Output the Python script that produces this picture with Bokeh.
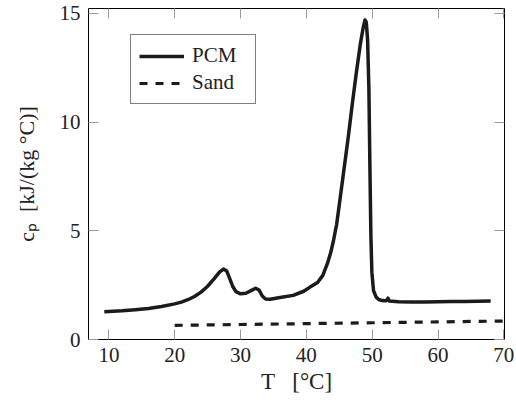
from bokeh.plotting import figure
from bokeh.models import (LinearAxis, FixedTicker, Range1d, Legend, LegendItem,
                          ColumnDataSource)
from bokeh.embed import file_html
from bokeh.resources import INLINE

# ---- data ----
pcm_T = [9.3, 10, 12, 14, 16, 18, 20, 21, 22, 23, 24, 25, 26, 26.8, 27.4, 27.9, 28.3, 28.8,
         29.3, 30.0, 30.8, 31.6, 32.3, 32.8, 33.3, 33.8, 34.5, 36, 38, 39.6, 40.5, 41.7, 42.5,
         43.2, 43.7, 44.15, 44.6, 45.0, 45.7, 46.4, 47.0, 47.6, 48.2, 48.6, 48.9, 49.1, 49.3,
         49.5, 49.65, 49.8, 49.95, 50.2, 50.6, 51.0, 51.5, 52.0, 52.2, 52.4, 52.6, 54, 56, 58,
         60, 62, 64, 66, 68]
pcm_cp = [1.28, 1.29, 1.32, 1.37, 1.43, 1.52, 1.64, 1.72, 1.83, 1.98, 2.18, 2.45, 2.80, 3.10,
          3.24, 3.15, 2.85, 2.45, 2.20, 2.10, 2.13, 2.25, 2.36, 2.28, 2.00, 1.86, 1.85, 1.93,
          2.03, 2.22, 2.40, 2.62, 2.95, 3.50, 4.0, 4.6, 5.3, 6.2, 7.8, 9.4, 10.9, 12.3, 13.6,
          14.3, 14.7, 14.6, 13.8, 11.5, 8.0, 4.8, 3.1, 2.25, 1.95, 1.84, 1.79, 1.78, 1.80, 1.90,
          1.77, 1.74, 1.73, 1.73, 1.74, 1.75, 1.75, 1.76, 1.77]
sand_T = [20, 30, 40, 50, 60, 70]
sand_cp = [0.65, 0.69, 0.73, 0.77, 0.81, 0.85]
x_ticks = [10, 20, 30, 40, 50, 60, 70]
y_ticks = [0, 5, 10, 15]
series_names = ["PCM", "Sand"]
x_label = "T\u00a0\u00a0 [°C]"
y_label = "cₚ\u00a0 [kJ/(kg °C)]"

FONT = "Liberation Serif"
LINE = "#1c1a1b"
TEXT = "#222222"

p = figure(width=516, height=409, output_backend="svg", toolbar_location=None,
           x_range=Range1d(6.9, 70.1), y_range=Range1d(0, 15.23),
           min_border_left=88, min_border_right=12, min_border_top=8, min_border_bottom=70,
           x_axis_type=None, y_axis_type=None)
p.grid.visible = False
p.outline_line_color = "black"
p.outline_line_width = 1
p.outline_line_alpha = 1
p.background_fill_color = "white"
p.border_fill_color = "white"


def style_axis(ax, ticks, show_labels):
    ax.ticker = FixedTicker(ticks=ticks)
    ax.axis_line_color = None
    ax.major_tick_in = 10
    ax.major_tick_out = 0
    ax.major_tick_line_color = "#9a9a9a"
    ax.major_tick_line_width = 1
    ax.minor_tick_line_color = None
    if show_labels:
        ax.major_label_text_font = FONT
        ax.major_label_text_font_size = "21px"
        ax.major_label_text_color = TEXT
        ax.major_label_standoff = 8
        ax.axis_label_text_font = FONT
        ax.axis_label_text_font_size = "22px"
        ax.axis_label_text_font_style = "normal"
        ax.axis_label_text_color = TEXT
    else:
        ax.major_label_text_font_size = "0px"
        ax.major_label_text_alpha = 0
        ax.major_label_standoff = 0


xb = LinearAxis(axis_label=x_label); style_axis(xb, x_ticks, True)
xb.axis_label_standoff = 4
xb.axis_label_text_font_size = "23px"
p.add_layout(xb, "below")
yl = LinearAxis(axis_label=y_label); style_axis(yl, y_ticks, True)
yl.axis_label_standoff = 18
p.add_layout(yl, "left")
xt = LinearAxis(); style_axis(xt, x_ticks, False); p.add_layout(xt, "above")
yr = LinearAxis(); style_axis(yr, y_ticks, False); p.add_layout(yr, "right")

src_p = ColumnDataSource(dict(x=pcm_T, y=pcm_cp))
src_s = ColumnDataSource(dict(x=sand_T, y=sand_cp))
r1 = p.line("x", "y", source=src_p, line_color=LINE, line_width=3.5, line_join="round")
r2 = p.line("x", "y", source=src_s, line_color=LINE, line_width=3.2, line_dash="8 8")

legend = Legend(items=[LegendItem(label=series_names[0], renderers=[r1]),
                       LegendItem(label=series_names[1], renderers=[r2])],
                location=(42, 235), orientation="vertical",
                label_text_font=FONT, label_text_font_size="21px", label_text_color=TEXT,
                glyph_width=45, glyph_height=20, label_height=20, label_width=55,
                label_standoff=8, spacing=2, padding=8, margin=0,
                border_line_color="black", border_line_width=1,
                background_fill_color="white", background_fill_alpha=1)
p.add_layout(legend, "center")

open("out.html", "w").write(file_html(p, INLINE))
